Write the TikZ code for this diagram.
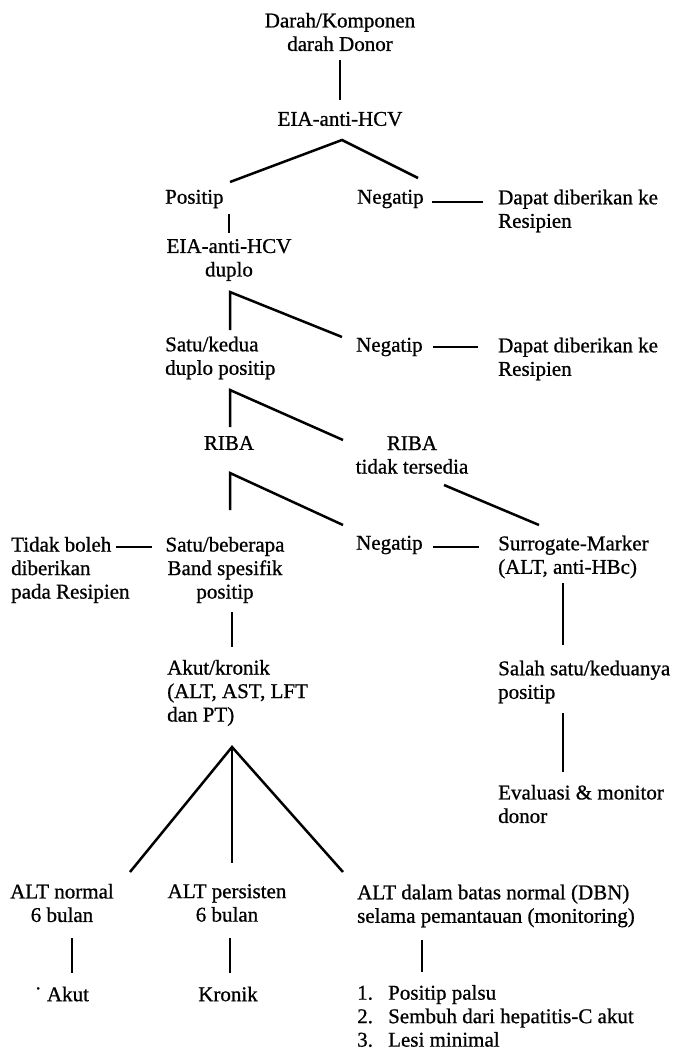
\documentclass[tikz,border=0pt]{standalone}
\usepackage{fontspec}
\setmainfont{Liberation Serif}[FakeBold=0.8]
\newcommand{\listno}[1]{\makebox[31pt][l]{#1}}
\tikzset{
    txt/.style={font=\fontsize{21}{23.5}\selectfont, inner sep=0pt, align=left, anchor=west},
    ctxt/.style={font=\fontsize{21}{23.5}\selectfont, inner sep=0pt, align=center},
    stem/.style={line width=1.7pt},
    branch/.style={line width=2.5pt, line join=miter},
    dashline/.style={line width=1.5pt}
}
\begin{document}
\begin{tikzpicture}[x=1pt, y=-1pt]
    \useasboundingbox (0,0) rectangle (672,1051);

    % texts
    \node[ctxt] (donor) at (340,32) {Darah/Komponen\\darah Donor};
    \node[ctxt] (eia1) at (340,119) {EIA-anti-HCV};
    \node[txt] (pos1) at (165,199) {Positip};
    \node[txt] (neg1) at (357,199) {Negatip};
    \node[txt] (dapat1) at (498,211) {Dapat diberikan ke\\Resipien};
    \node[ctxt] (eia2) at (229,260) {EIA-anti-HCV\\duplo};
    \node[txt] (satu1) at (165,358) {Satu/kedua\\duplo positip};
    \node[txt] (neg2) at (356,347) {Negatip};
    \node[txt] (dapat2) at (498,359) {Dapat diberikan ke\\Resipien};
    \node[ctxt] (riba1) at (229,443) {RIBA};
    \node[ctxt] (riba2) at (412,455) {RIBA\\tidak tersedia};
    \node[txt] (tidak) at (11,570) {Tidak boleh\\diberikan\\pada Resipien};
    \node[ctxt] (satu2) at (225,570) {Satu/beberapa\\Band spesifik\\positip};
    \node[txt] (neg3) at (356,545) {Negatip};
    \node[txt] (surr) at (498,557) {Surrogate-Marker\\(ALT, anti-HBc)};
    \node[txt] (akut1) at (167,693) {Akut/kronik\\(ALT, AST, LFT\\dan PT)};
    \node[txt] (salah) at (498,682) {Salah satu/keduanya\\positip};
    \node[txt] (eval) at (498,804) {Evaluasi \& monitor\\donor};
    \node[ctxt] (altn) at (62,903) {ALT normal\\6 bulan};
    \node[ctxt] (altp) at (227,903) {ALT persisten\\6 bulan};
    \node[txt] (altd) at (357,906) {ALT dalam batas normal (DBN)\\selama pemantauan (monitoring)};
    \node[txt] (akut2) at (34.5,994) {˙ Akut};
    \node[ctxt] (kronik) at (228,994) {Kronik};
    \node[txt] (hasil) at (357,1016) {\listno{1.}Positip palsu\\\listno{2.}Sembuh dari hepatitis-C akut\\\listno{3.}Lesi minimal};

    % line ends
    \coordinate (donor-s) at (340,60);
    \coordinate (eia1-n) at (340,100);
    \coordinate (eia1-s) at (342,140);
    \coordinate (pos1-n) at (230,182);
    \coordinate (neg1-n) at (418,178);
    \coordinate (neg1-e) at (432,202);
    \coordinate (dapat1-w) at (483,202);
    \coordinate (pos1-s) at (229,214);
    \coordinate (eia2-n) at (229,233);
    \coordinate (eia2-s) at (230,292);
    \coordinate (satu1-n) at (230,330);
    \coordinate (neg2-n) at (342,337);
    \coordinate (neg2-e) at (433,347);
    \coordinate (dapat2-w) at (478,347);
    \coordinate (satu1-s) at (230,390);
    \coordinate (riba1-n) at (230,427);
    \coordinate (riba2-n) at (343,440);
    \coordinate (riba1-s) at (230,473);
    \coordinate (satu2-n) at (230,510);
    \coordinate (neg3-n) at (343,525);
    \coordinate (riba2-s) at (444,485);
    \coordinate (surr-n) at (539,525);
    \coordinate (tidak-e) at (116,547);
    \coordinate (satu2-w) at (152,547);
    \coordinate (neg3-e) at (433,547);
    \coordinate (surr-w) at (479,547);
    \coordinate (satu2-s) at (232,612);
    \coordinate (akut1-n) at (232,647);
    \coordinate (surr-s) at (563,583);
    \coordinate (salah-n) at (563,645);
    \coordinate (salah-s) at (563,713);
    \coordinate (eval-n) at (563,772);
    \coordinate (akut1-s) at (232,747);
    \coordinate (altn-n) at (130,872);
    \coordinate (altp-n) at (232,863);
    \coordinate (altd-n) at (343,872);
    \coordinate (altn-s) at (72,938);
    \coordinate (akut2-n) at (72,973);
    \coordinate (altp-s) at (230,938);
    \coordinate (kronik-n) at (230,973);
    \coordinate (altd-s) at (422,940);
    \coordinate (hasil-n) at (422,972);

    % connectors
    \draw[stem] (donor-s) -- (eia1-n);
    \draw[branch] (pos1-n) -- (eia1-s) -- (neg1-n);
    \draw[dashline] (neg1-e) -- (dapat1-w);
    \draw[stem] (pos1-s) -- (eia2-n);
    \draw[branch] (satu1-n) -- (eia2-s) -- (neg2-n);
    \draw[dashline] (neg2-e) -- (dapat2-w);
    \draw[branch] (riba1-n) -- (satu1-s) -- (riba2-n);
    \draw[branch] (satu2-n) -- (riba1-s) -- (neg3-n);
    \draw[branch] (riba2-s) -- (surr-n);
    \draw[dashline] (tidak-e) -- (satu2-w);
    \draw[dashline] (neg3-e) -- (surr-w);
    \draw[stem] (satu2-s) -- (akut1-n);
    \draw[stem] (surr-s) -- (salah-n);
    \draw[stem] (salah-s) -- (eval-n);
    \draw[branch] (altn-n) -- (akut1-s) -- (altd-n);
    \draw[stem] (akut1-s) -- (altp-n);
    \draw[stem] (altn-s) -- (akut2-n);
    \draw[stem] (altp-s) -- (kronik-n);
    \draw[stem] (altd-s) -- (hasil-n);

\end{tikzpicture}
\end{document}
